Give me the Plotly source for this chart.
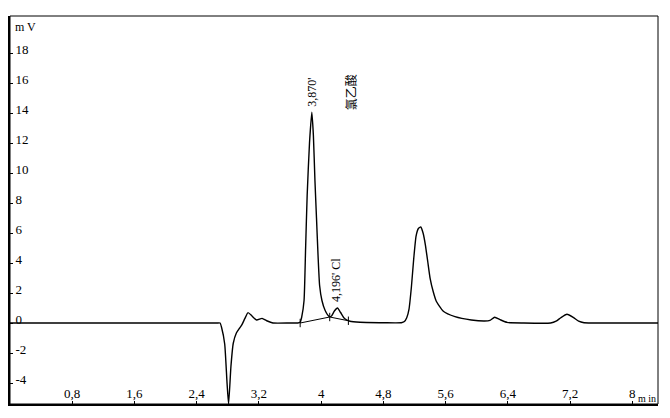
import plotly.graph_objects as go

# Chromatogram signal (time in min, signal in mV)
time_min = [0.0, 0.8, 1.6, 2.40, 2.66, 2.70, 2.72, 2.76, 2.79, 2.81, 2.84, 2.87, 2.91, 2.95, 2.98,
            3.02, 3.06, 3.11, 3.17, 3.24, 3.30, 3.38, 3.60, 3.70, 3.73, 3.75, 3.78, 3.80, 3.82,
            3.85, 3.88, 3.90, 3.92, 3.94, 3.96, 3.98, 4.01, 4.05, 4.10, 4.13, 4.17, 4.21,
            4.25, 4.30, 4.37, 4.50, 4.75, 4.95, 5.03, 5.07, 5.10, 5.13, 5.16, 5.19, 5.22,
            5.25, 5.28, 5.31, 5.34, 5.37, 5.40, 5.44, 5.48, 5.57, 5.72, 5.93, 6.10, 6.17,
            6.23, 6.30, 6.39, 6.60, 6.95, 7.02, 7.08, 7.16, 7.24, 7.31, 7.38, 7.60, 8.33]
signal_mv = [0.0, 0.0, 0.0, 0.0, 0.0, 0.0, -0.3, -1.4, -4.0, -5.4, -2.9, -1.35, -0.67, -0.35, -0.13,
             0.31, 0.69, 0.47, 0.2, 0.31, 0.15, 0.0, 0.0, 0.0, 0.05, 0.4, 1.5, 5.0, 8.5,
             12.0, 14.05, 12.5, 9.5, 7.0, 4.5, 2.5, 1.5, 0.85, 0.45, 0.45, 0.8, 1.0,
             0.7, 0.3, 0.12, 0.05, 0.02, 0.01, 0.02, 0.1, 0.35, 0.95, 2.4, 4.3, 5.8,
             6.3, 6.4, 6.0, 5.2, 4.1, 3.0, 2.1, 1.45, 0.78, 0.42, 0.2, 0.13, 0.17,
             0.38, 0.22, 0.04, 0.0, 0.0, 0.12, 0.35, 0.58, 0.38, 0.12, 0.02, 0.0, 0.0]

# Integration baseline drawn under the 3.870 / 4.196 pair
base_t = [3.73, 4.11, 4.35]
base_v = [0.0, 0.4, 0.15]

# Axis ticks
x_tickvals = [0.8, 1.6, 2.4, 3.2, 4.0, 4.8, 5.6, 6.4, 7.2, 8.0]
x_ticktext = ["0,8", "1,6", "2,4", "3,2", "4", "4,8", "5,6", "6,4", "7,2", "8"]
y_tickvals = [-4, -2, 0, 2, 4, 6, 8, 10, 12, 14, 16, 18]
y_ticktext = [str(v) for v in y_tickvals]

# Peak labels
peak_labels = ["3,870'", "4,196' Cl", "氯乙酸"]
peak_label_t = [3.88, 4.20, 4.37]
peak_label_v = [14.1, 1.05, 13.85]

SERIF = "Liberation Serif, Times New Roman, serif"

fig = go.Figure()
fig.add_trace(go.Scatter(x=time_min, y=signal_mv, mode="lines",
                         line=dict(color="black", width=1.4, shape="spline", smoothing=0.5),
                         hoverinfo="skip", showlegend=False))
fig.add_trace(go.Scatter(x=base_t, y=base_v, mode="lines+markers",
                         line=dict(color="black", width=1),
                         marker=dict(symbol="line-ns-open", size=6, color="black",
                                     line=dict(width=1, color="black")),
                         hoverinfo="skip", showlegend=False))

for txt, t, v in zip(peak_labels, peak_label_t, peak_label_v):
    fig.add_annotation(x=t, y=v, text=txt, showarrow=False, textangle=-90,
                       xanchor="center", yanchor="bottom", yshift=3,
                       font=dict(family=SERIF if txt[0].isdigit() else "Noto Sans CJK SC",
                                 size=12, color="black"))

fig.add_annotation(x=0.005, y=0.995, xref="paper", yref="paper", text="m V",
                   showarrow=False, xanchor="left", yanchor="top",
                   font=dict(family=SERIF, size=12, color="black"))
fig.add_annotation(x=1.0, y=0.0, xref="paper", yref="paper", text="m in",
                   showarrow=False, xanchor="right", yanchor="bottom", yshift=-2,
                   font=dict(family=SERIF, size=10, color="black"))

# outer frame (top / right thinner)
fig.add_shape(type="rect", xref="paper", yref="paper", x0=0, y0=0, x1=1, y1=1,
              line=dict(color="black", width=1))

fig.update_xaxes(range=[0, 8.33], tickvals=x_tickvals, ticktext=x_ticktext,
                 ticks="inside", ticklen=3, tickcolor="black", ticklabelposition="inside",
                 showline=True, linewidth=2, linecolor="black", showgrid=False, zeroline=False,
                 tickfont=dict(family=SERIF, size=13, color="black"))
fig.update_yaxes(range=[-5.4, 20.47], tickvals=y_tickvals, ticktext=y_ticktext,
                 ticks="inside", ticklen=3, tickcolor="black", ticklabelposition="inside",
                 ticklabelshift=-4, ticklabelstandoff=2,
                 showline=True, linewidth=2, linecolor="black", showgrid=False, zeroline=False,
                 tickfont=dict(family=SERIF, size=13, color="black"))

# page body has an 8px default margin, so the figure is sized to fit inside the window
fig.update_layout(width=662, height=410, margin=dict(l=2, r=12, t=8, b=14),
                  paper_bgcolor="white", plot_bgcolor="white")

fig.write_html("out.html")
